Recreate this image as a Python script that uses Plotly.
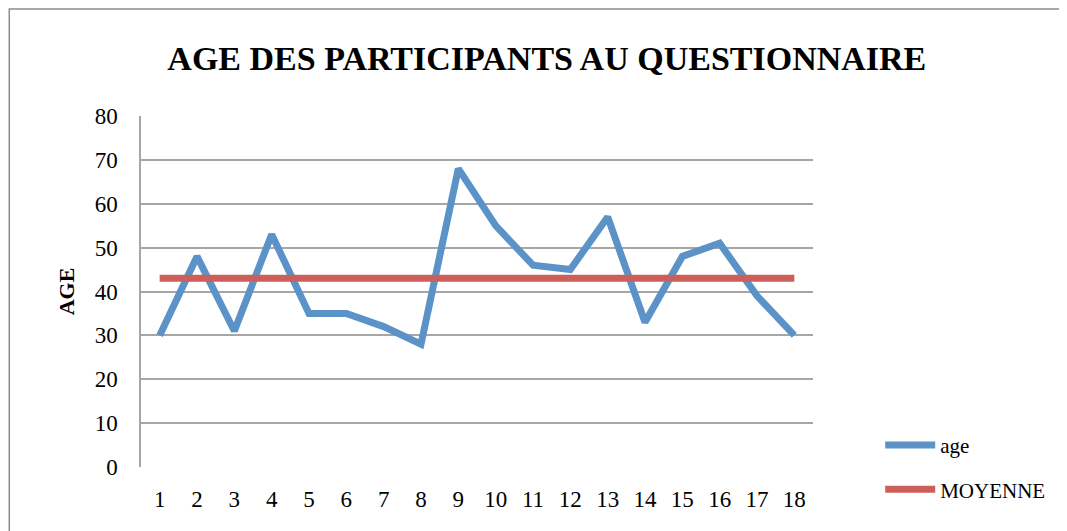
import plotly.graph_objects as go

# données
participants = list(range(1, 19))
ages = [30, 48, 31, 53, 35, 35, 32, 28, 68, 55, 46, 45, 57, 33, 48, 51, 39, 30]
moyenne = [43] * len(participants)

SERIF = "Liberation Serif"
BLUE = "#5B93C8"
RED = "#CC5F5A"

fig = go.Figure()

fig.add_trace(go.Scatter(x=participants, y=ages, name="age", mode="lines",
                         legendgroup="a", line=dict(color=BLUE, width=7)))
fig.add_trace(go.Scatter(x=participants, y=moyenne, name="MOYENNE", mode="lines",
                         legendgroup="b", line=dict(color=RED, width=7)))

# cadre extérieur du graphique
fig.add_shape(type="rect", xref="paper", yref="paper",
              x0=-0.196, x1=1.37, y0=-0.5, y1=1.305,
              line=dict(color="#8c8c8c", width=1.5), layer="below")

fig.update_layout(
    width=1067, height=531,
    margin=dict(l=133, r=262, t=108, b=72, autoexpand=False),
    paper_bgcolor="white", plot_bgcolor="white",
    font=dict(family=SERIF, size=23, color="black"),
    title=dict(text="<b>AGE DES PARTICIPANTS AU QUESTIONNAIRE</b>",
               x=0.505, xanchor="center", y=0.905, yanchor="middle",
               font=dict(family=SERIF, size=34, color="black")),
    showlegend=True,
    legend=dict(x=1.1, xanchor="left", y=0.12, yanchor="top",
                font=dict(family=SERIF, size=21), tracegroupgap=14,
                itemwidth=50, bgcolor="rgba(0,0,0,0)"),
)

fig.update_xaxes(type="category", range=[-0.5, 17.5], showgrid=False,
                 showline=False, ticks="", ticklabelstandoff=16,
                 zeroline=False, automargin=False)
fig.update_yaxes(range=[0, 80], dtick=10, showgrid=True, gridcolor="#a6a6a6",
                 gridwidth=1.5, showline=True, linecolor="#a6a6a6", linewidth=1.5,
                 ticks="", ticklabelstandoff=17, zeroline=False, automargin=False,
                 title=dict(text="<b>AGE</b>", font=dict(family=SERIF, size=22),
                            standoff=14))

fig.write_html("out.html")
